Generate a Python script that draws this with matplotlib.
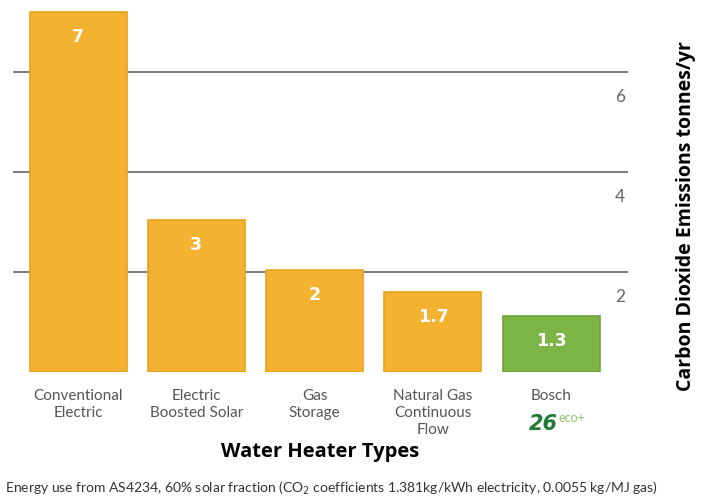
import matplotlib.pyplot as plt

categories = ["Conventional\nElectric", "Electric\nBoosted Solar", "Gas\nStorage",
              "Natural Gas\nContinuous\nFlow", "Bosch"]
heights = [7.2, 3.05, 2.05, 1.6, 1.12]
labels = ["7", "3", "2", "1.7", "1.3"]
yticks = [2, 4, 6]

orange = "#F3B22F"
green = "#7DB446"
colors = [orange, orange, orange, orange, green]
edges = ["#E9A21C", "#E9A21C", "#E9A21C", "#E9A21C", "#6AA33A"]

fig = plt.figure(figsize=(7.04, 4.97), dpi=100)
ax = fig.add_axes([0.0185, 0.2515, 0.8736, 0.7344])

x = list(range(len(categories)))
ax.bar(x, heights, width=0.82, color=colors, edgecolor=edges, linewidth=1.2, zorder=3)

for v in yticks:
    ax.axhline(v, color="#7a7a7a", lw=1.4, zorder=1)
    ax.text(4.58, v - 0.5, str(v), ha="center", va="center", fontsize=12.5,
            color="#666666", family="Lato")
ax.axhline(-0.05, color="#9aaabb", lw=1.6, zorder=4)

for xi, h, lab in zip(x, heights, labels):
    ax.text(xi, h - 0.5, lab, ha="center", va="center", color="white",
            fontsize=12.5, fontweight="bold", zorder=5)

for xi, cat in zip(x, categories):
    ax.text(xi, -0.33, cat, ha="center", va="top", fontsize=11, color="#555555",
            family="Lato", linespacing=1.3)
ax.text(3.93, -0.84, "26", ha="center", va="top", fontsize=15, color="#1f7a34",
        fontweight="bold", style="italic")
ax.text(4.06, -0.79, "eco+", ha="left", va="top", fontsize=9, color="#8cc56a",
        family="Lato")

ax.set_xlim(-0.55, 4.65)
ax.set_ylim(0, 7.3)
ax.axis("off")

fig.text(0.455, 0.09, "Water Heater Types", ha="center", va="center",
         fontsize=14.5, fontweight="bold", family="Open Sans")
fig.text(0.975, 0.565, "Carbon Dioxide Emissions tonnes/yr", rotation=90,
         ha="center", va="center", fontsize=14, fontweight="bold", family="Open Sans")
fig.text(0.007, 0.017, "Energy use from AS4234, 60% solar fraction (CO$_2$ coefficients 1.381kg/kWh electricity, 0.0055 kg/MJ gas)",
         ha="left", va="center", fontsize=10, color="#333333", family="Lato")

fig.savefig("out.png", dpi=100)
